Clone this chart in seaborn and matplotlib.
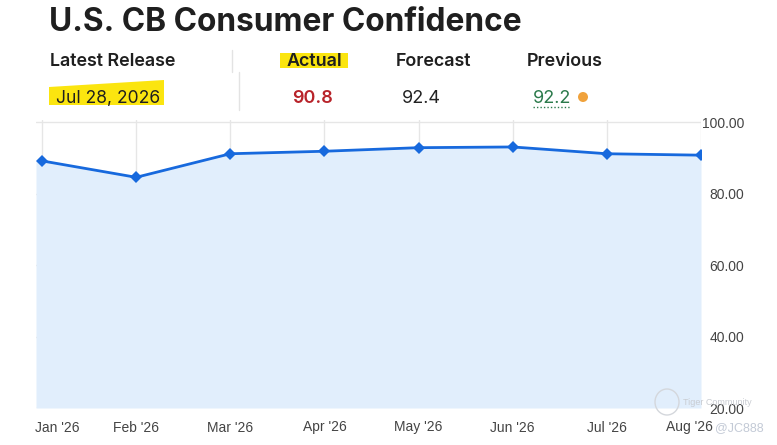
import numpy as np
import pandas as pd
import seaborn as sns
import matplotlib.pyplot as plt
from matplotlib.patches import Rectangle, Polygon, Ellipse
from matplotlib.lines import Line2D
from matplotlib.transforms import ScaledTranslation

months = ["Jan '26", "Feb '26", "Mar '26", "Apr '26", "May '26", "Jun '26", "Jul '26", "Aug '26"]
values = [89.2, 84.6, 91.2, 91.9, 92.9, 93.1, 91.2, 90.8]
y_ticks = [20, 40, 60, 80, 100]

header_labels = ["Latest Release", "Actual", "Forecast", "Previous"]
release_date = "Jul 28, 2026"
actual = "90.8"
forecast = "92.4"
previous = "92.2"

W, H = 777, 445


def px(x, y):
    # pixel coords from top-left -> figure fraction
    return x / W, 1 - y / H


sns.set_style("white")
plt.rcParams["font.family"] = ["Inter", "DejaVu Sans"]

fig = plt.figure(figsize=(W / 100, H / 100), dpi=100)
fig.patch.set_facecolor("white")

# --- chart ---
left, right, top, bottom = 36, 701, 120, 408
ax = fig.add_axes([left / W, 1 - bottom / H, (right - left) / W, (bottom - top) / H])

df = pd.DataFrame({"idx": np.arange(len(months)), "value": values})
x0 = -0.064
ax.fill_between(np.r_[x0, df["idx"]], np.r_[values[0], values], 20,
                color="#e1eefc", lw=0, zorder=1)
sns.lineplot(data=df, x="idx", y="value", ax=ax, color="#1769dd", lw=2.0,
             marker="D", markersize=6, markeredgewidth=0, zorder=3)

ax.set_xlim(x0, len(months) - 1)
ax.set_ylim(20, 100.65)
ax.set_xticks(df["idx"])
ax.set_xticklabels(months)
ax.set_yticks(y_ticks)
ax.set_yticklabels([f"{v:.2f}" for v in y_ticks])
ax.yaxis.tick_right()
for lab in ax.get_yticklabels():
    lab.set_horizontalalignment("right")
ax.tick_params(axis="y", length=0, pad=31, labelsize=10, labelcolor="#444444")
ax.tick_params(axis="x", length=0, pad=9, labelsize=10, labelcolor="#444444")
for lab in ax.get_xticklabels() + ax.get_yticklabels():
    lab.set_family(["Liberation Sans", "DejaVu Sans"])
# end labels sit a little inside the plot edges
xlabs = ax.get_xticklabels()
xlabs[0].set_transform(xlabs[0].get_transform() + ScaledTranslation(0.15, 0, fig.dpi_scale_trans))
xlabs[-1].set_transform(xlabs[-1].get_transform() + ScaledTranslation(-0.12, 0, fig.dpi_scale_trans))
ax.grid(True, color="#e6e6e6", lw=1)
ax.set_axisbelow(True)
for s in ax.spines.values():
    s.set_visible(False)
ax.set_xlabel("")
ax.set_ylabel("")

# --- header ---
fig.text(*px(49, 31), "U.S. CB Consumer Confidence", fontsize=22.8,
         fontweight="bold", color="#1f1f1f", va="baseline")

# highlights
fig.add_artist(Rectangle(px(280, 68), 68 / W, 15.3 / H, transform=fig.transFigure,
                         color="#fbe50f", lw=0, zorder=0))
fig.add_artist(Polygon([px(49, 87), px(164, 80), px(164, 105), px(49, 105)],
                       closed=True, transform=fig.transFigure,
                       color="#fbe50f", lw=0, zorder=0))

hx = [50, 287, 396, 527]
for x, lab in zip(hx, header_labels):
    fig.text(*px(x, 66), lab, fontsize=12.9, fontweight="semibold",
             color="#1f1f1f", va="baseline")

fig.text(*px(56, 103), release_date, fontsize=12.6, color="#1f1f1f", va="baseline")
fig.text(*px(292, 103), actual, fontsize=13, fontweight="semibold",
         color="#b8232a", va="baseline")
fig.text(*px(402, 103), forecast, fontsize=13, color="#222222", va="baseline")
fig.text(*px(533, 103), previous, fontsize=13, color="#2b7a4b", va="baseline")
fig.add_artist(Line2D([533 / W, 570 / W], [1 - 106.5 / H] * 2, transform=fig.transFigure,
                      color="#2b7a4b", lw=1, ls=(0, (1, 1.5))))
fig.add_artist(Ellipse(px(583, 97), 10 / W, 10 / H, transform=fig.transFigure,
                       color="#f0a23c", lw=0))

# separators
fig.add_artist(Line2D([232 / W] * 2, [1 - 50 / H, 1 - 72 / H], transform=fig.transFigure,
                      color="#e3e3e3", lw=1))
fig.add_artist(Line2D([239 / W] * 2, [1 - 72 / H, 1 - 110 / H], transform=fig.transFigure,
                      color="#e3e3e3", lw=1))

# watermark
fig.add_artist(Ellipse(px(667, 402), 24 / W, 26 / H, transform=fig.transFigure,
                       fill=False, ec="#d4d7dc", lw=1))
fig.text(*px(683, 405), "Tiger Community", fontsize=6.5, color="#c9ccd2",
         family=["Liberation Sans", "DejaVu Sans"], va="baseline")
fig.text(*px(715, 431), "@JC888", fontsize=9, color="#c3cad6",
         family=["Liberation Sans", "DejaVu Sans"], va="baseline")

fig.savefig("out.png", dpi=100)
